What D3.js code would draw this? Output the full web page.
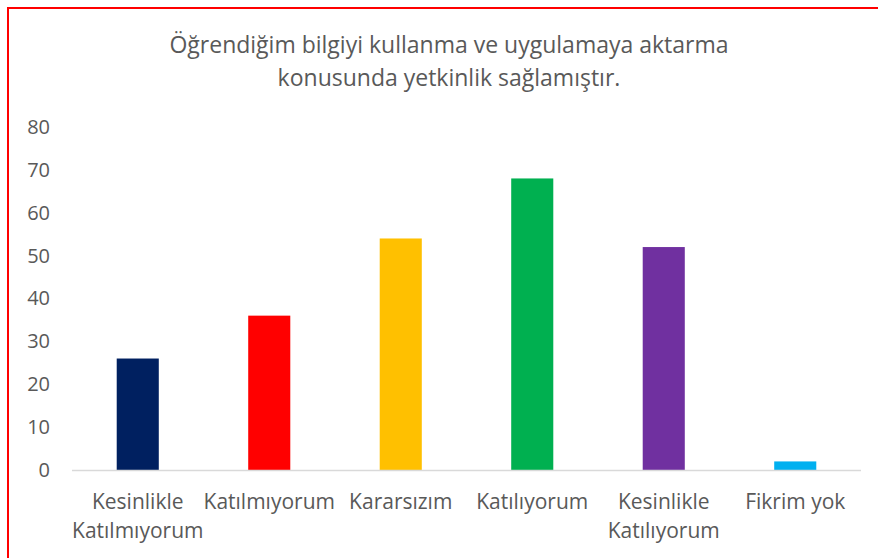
<!DOCTYPE html>
<html>
<head>
<meta charset="utf-8">
<script src="https://cdn.jsdelivr.net/npm/d3@7"></script>
<style>
  body { margin: 0; background: #fff; }
  svg { display: block; font-family: "Open Sans", sans-serif; }
</style>
</head>
<body>
<div id="chart"></div>
<script>
var w = 878,
	h = 558;

// data
var categories = [["Kesinlikle", "Katılmıyorum"], ["Katılmıyorum"], ["Kararsızım"], ["Katılıyorum"], ["Kesinlikle", "Katılıyorum"], ["Fikrim yok"]];
var values = [26, 36, 54, 68, 52, 2];
var colors = ["#002060", "#FF0000", "#FFC000", "#00B050", "#7030A0", "#00B0F0"];
var yTicks = [0, 10, 20, 30, 40, 50, 60, 70, 80];
var titleLines = ["Öğrendiğim bilgiyi kullanma ve uygulamaya aktarma", "konusunda yetkinlik sağlamıştır."];

var margin = {top: 127, left: 72, right: 17, bottom: 88};

var svg = d3.select("#chart").append("svg")
	.attr("width", w)
	.attr("height", h);

// chart border (red)
svg.append("rect")
	.attr("x", 8)
	.attr("y", 8)
	.attr("width", w)
	.attr("height", h)
	.attr("fill", "none")
	.attr("stroke", "#FF0000")
	.attr("stroke-width", 2);

var x = d3.scaleBand()
	.domain(d3.range(values.length))
	.range([margin.left, w - margin.right])
	.paddingInner(0.68)
	.paddingOuter(0.34);

var y = d3.scaleLinear()
	.domain([0, 80])
	.range([h - margin.bottom, margin.top]);

// title
svg.append("text")
	.attr("text-anchor", "middle")
	.attr("font-size", "23px")
	.attr("fill", "#595959")
	.selectAll("tspan")
	.data(titleLines)
	.enter()
	.append("tspan")
	.attr("x", 449)
	.attr("y", function(d, i){ return 53 + i * 33; })
	.text(function(d){ return d; });

// y axis labels
var yAxis = svg.append("g")
	.attr("transform", "translate(" + 50 + ",0)")
	.call(d3.axisLeft(y).tickValues(yTicks).tickSize(0).tickPadding(0));
yAxis.select(".domain").remove();
yAxis.selectAll("text")
	.attr("font-family", "'Open Sans', sans-serif")
	.attr("font-size", "20px")
	.attr("fill", "#595959");

// bars
svg.selectAll(".bar")
	.data(values)
	.enter()
	.append("rect")
	.attr("class", "bar")
	.attr("x", function(d, i){ return x(i); })
	.attr("y", function(d){ return y(d); })
	.attr("width", x.bandwidth())
	.attr("height", function(d){ return y(0) - y(d); })
	.attr("fill", function(d, i){ return colors[i]; });

// baseline
svg.append("line")
	.attr("x1", margin.left)
	.attr("x2", w - margin.right)
	.attr("y1", y(0) + 0.5)
	.attr("y2", y(0) + 0.5)
	.attr("stroke", "#D9D9D9")
	.attr("stroke-width", 1.5);

// category labels
var cat = svg.selectAll(".cat")
	.data(categories)
	.enter()
	.append("text")
	.attr("class", "cat")
	.attr("text-anchor", "middle")
	.attr("font-size", "21px")
	.attr("fill", "#595959");
cat.selectAll("tspan")
	.data(function(d, i){ return d.map(function(t){ return {t: t, i: i}; }); })
	.enter()
	.append("tspan")
	.attr("x", function(d){ return x(d.i) + x.bandwidth() / 2; })
	.attr("y", function(d, j){ return 509 + j * 29; })
	.text(function(d){ return d.t; });
</script>
</body>
</html>
